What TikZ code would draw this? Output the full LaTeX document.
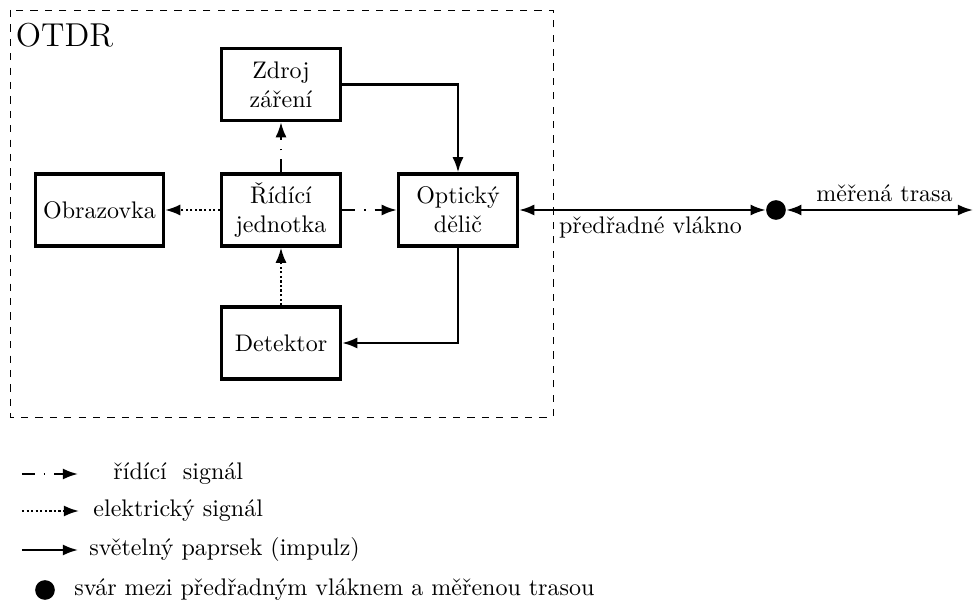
\documentclass[tikz,border=0pt]{standalone}
\usepackage{fontspec}
\usepackage{tikz}
\usetikzlibrary{arrows.meta,positioning}
\tikzset{
	x=4.1667pt,
	y=4.1667pt,
	>={Latex[length=6.3pt,width=4.6pt]},
	block/.style={
		draw=black,
		line width=1.4pt,
		minimum width=49.6pt,
		minimum height=30pt,
		align=center,
		inner sep=2pt
	},
	svar/.style={
		circle,
		fill=black,
		inner sep=0pt,
		minimum size=8.2pt
	},
	ridici/.style={line width=0.9pt,dash pattern=on 5.4pt off 3.75pt on 0.6pt off 3.75pt},
	elektricky/.style={line width=0.9pt,dash pattern=on 0.9pt off 1pt},
	svetelny/.style={line width=0.9pt},
	popis/.style={anchor=mid west,inner sep=0pt}
}

\begin{document}
\begin{tikzpicture}
	\useasboundingbox (0,0) rectangle (97.3,60.2);
	\draw [dashed] (1.05,59.2) rectangle (55.3,18.5);
	\node [anchor=base west,inner sep=0pt] (otdr) at (1.55,55.5) {\fontsize{13.8}{16}\selectfont OTDR};

	\node [block] (zdroj) at (28.1,51.75) {Zdroj\\záření};
	\node [block] (opticky) at (45.8,39.2) {Optický\\dělič};
	\node [block,minimum width=53.3pt] (obrazovka) at (9.95,39.2) {Obrazovka};
	\node [block] (ridici) at (28.1,39.2) {Řídící\\jednotka}
	edge [ridici,->] (zdroj)
	edge [ridici,->] (opticky)
	edge [elektricky,->] (obrazovka);
	\node [block] (detektor) at (28.1,25.9) {Detektor}
	edge [elektricky,->] (ridici);

	\draw [svetelny,->] (zdroj) -| (opticky);
	\draw [svetelny,->] (opticky) |- (detektor);

	% trasa
	\node [svar] (svar) at (77.6,39.2) {};
	\coordinate (konec) at (97.3,39.2);
	\draw [svetelny,<->] (opticky) -- (svar);
	\draw [svetelny,<->] (svar) -- (konec);
	\node [anchor=mid] (predradne) at (65.05,37.4) {předřadné vlákno};
	\node [anchor=mid] (merena) at (88.45,40.6) {měřená trasa};

	% legenda
	\coordinate (l1a) at (2.2,12.8);
	\coordinate (l1b) at (7.8,12.8);
	\coordinate (l2a) at (2.2,9.1);
	\coordinate (l2b) at (7.9,9.1);
	\coordinate (l3a) at (2.2,5.2);
	\coordinate (l3b) at (7.8,5.2);
	\draw [ridici,->] (l1a) -- (l1b);
	\draw [elektricky,->] (l2a) -- (l2b);
	\draw [svetelny,->] (l3a) -- (l3b);
	\node [popis] (t1) at (11.3,12.8) {řídící\ \ signál};
	\node [popis] (t2) at (9.3,9.1) {elektrický signál};
	\node [popis] (t3) at (8.9,5.2) {světelný paprsek (impulz)};
	\node [svar] (svarl) at (4.5,1.2) {};
	\node [popis] (t4) at (7.4,1.2) {svár mezi předřadným vláknem a měřenou trasou};
\end{tikzpicture}
\end{document}
